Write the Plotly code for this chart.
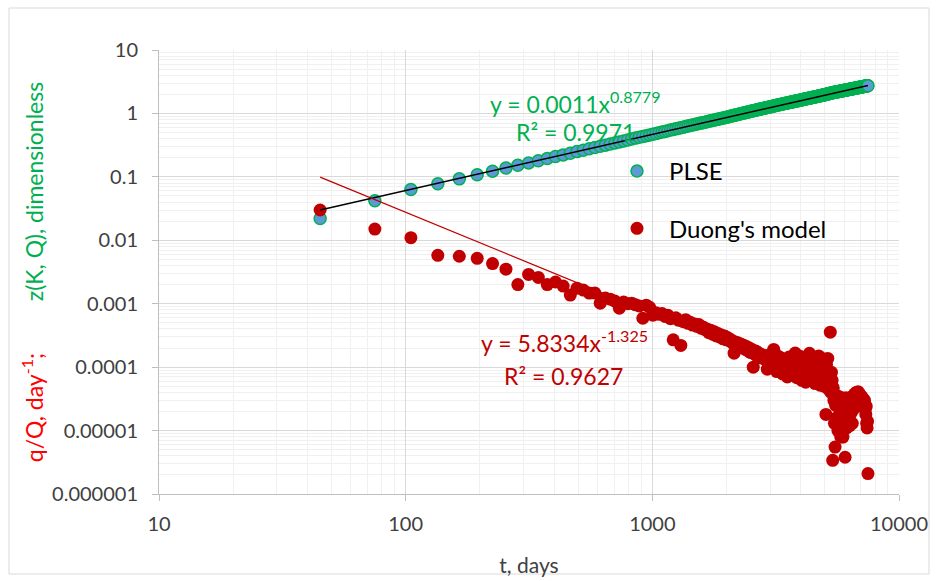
import plotly.graph_objects as go

# ---------------- data ----------------
days = list(range(45, 7486, 30))  # monthly sample times, t (days)

plse = [
    0.022, 0.042, 0.063, 0.078, 0.093, 0.108, 0.123, 0.138, 0.152, 0.166,
    0.180, 0.195, 0.209, 0.222, 0.236, 0.250, 0.263, 0.277, 0.290, 0.303,
    0.316, 0.330, 0.343, 0.356, 0.369, 0.382, 0.395, 0.408, 0.420, 0.433,
    0.446, 0.459, 0.471, 0.484, 0.496, 0.509, 0.521, 0.534, 0.546, 0.558,
    0.571, 0.583, 0.595, 0.607, 0.620, 0.632, 0.644, 0.656, 0.668, 0.680,
    0.692, 0.704, 0.716, 0.728, 0.740, 0.752, 0.764, 0.776, 0.787, 0.799,
    0.811, 0.823, 0.834, 0.846, 0.858, 0.869, 0.882, 0.895, 0.907, 0.920,
    0.932, 0.945, 0.957, 0.970, 0.982, 0.994, 1.006, 1.018, 1.030, 1.042,
    1.054, 1.066, 1.078, 1.090, 1.102, 1.114, 1.126, 1.138, 1.150, 1.162,
    1.174, 1.186, 1.197, 1.209, 1.221, 1.232, 1.244, 1.256, 1.267, 1.278,
    1.289, 1.300, 1.311, 1.322, 1.333, 1.344, 1.355, 1.366, 1.377, 1.388,
    1.399, 1.410, 1.420, 1.431, 1.442, 1.452, 1.463, 1.473, 1.484, 1.494,
    1.505, 1.515, 1.526, 1.536, 1.547, 1.557, 1.568, 1.578, 1.589, 1.599,
    1.610, 1.620, 1.631, 1.641, 1.651, 1.662, 1.672, 1.682, 1.693, 1.703,
    1.713, 1.724, 1.734, 1.744, 1.755, 1.765, 1.775, 1.786, 1.796, 1.806,
    1.816, 1.827, 1.837, 1.847, 1.857, 1.868, 1.878, 1.888, 1.898, 1.909,
    1.919, 1.929, 1.939, 1.949, 1.960, 1.970, 1.981, 1.993, 2.005, 2.017,
    2.029, 2.041, 2.053, 2.065, 2.077, 2.089, 2.100, 2.111, 2.121, 2.131,
    2.141, 2.150, 2.160, 2.169, 2.178, 2.187, 2.196, 2.205, 2.214, 2.223,
    2.232, 2.241, 2.250, 2.259, 2.268, 2.277, 2.286, 2.295, 2.304, 2.313,
    2.322, 2.331, 2.340, 2.349, 2.358, 2.367, 2.376, 2.385, 2.394, 2.403,
    2.412, 2.421, 2.430, 2.439, 2.448, 2.457, 2.466, 2.474, 2.483, 2.492,
    2.501, 2.510, 2.518, 2.527, 2.536, 2.545, 2.553, 2.562, 2.571, 2.580,
    2.588, 2.597, 2.606, 2.614, 2.623, 2.631, 2.640, 2.648, 2.657, 2.665,
    2.674, 2.682, 2.690, 2.698, 2.706, 2.714, 2.722, 2.730, 2.738,
]

duong = [
    0.030, 0.015, 0.011, 0.0058, 0.0056, 0.0052, 0.0043, 0.0035, 0.0020, 0.0029,
    0.0026, 0.0020, 0.0022, 0.0019, 0.00137, 0.00176, 0.00164, 0.00147, 0.00147, 0.00102,
    0.00123, 0.00118, 0.00110, 0.00085, 0.00106, 0.00100, 0.00102, 0.00096, 0.00092, 0.00059,
    0.00095, 0.00088, 0.00066, 0.00072, 0.00068, 0.00070, 0.00063, 0.00066, 0.00058, 0.00027,
    0.00060, 0.00055, 0.00022, 0.00052, 0.00056, 0.00049, 0.00051, 0.00046, 0.00048, 0.00044,
    0.00047, 0.00041, 0.00043, 0.00039, 0.00040, 0.00035, 0.00038, 0.00033, 0.00036, 0.00031,
    0.00034, 0.00030, 0.00032, 0.00028, 0.00031, 0.00027, 0.00029, 0.00026, 0.00027, 0.00024,
    0.000166, 0.00025, 0.00022, 0.00024, 0.00021, 0.00023, 0.00020, 0.00022, 0.00019, 0.00021,
    0.00018, 0.00020, 0.00017, 0.00019, 0.000100, 0.00016, 0.00018, 0.00015, 0.00017, 0.00014,
    0.00016, 0.000145, 0.000155, 0.000135, 0.00015, 0.00013, 0.000093, 0.000145, 0.000125, 0.00016,
    0.00011, 0.000135, 0.00019, 0.00010, 0.000125, 0.000085, 0.00015, 0.00012, 0.000095, 0.00014,
    0.00011, 0.000078, 0.00013, 0.000105, 0.00009, 0.000125, 0.00007, 0.00011, 0.000145, 0.000095,
    0.00012, 0.000075, 0.000105, 0.00013, 0.000085, 0.000167, 0.0001, 0.000068, 0.00012, 0.00009,
    0.00015, 0.00008, 0.00011, 0.000062, 0.000095, 0.00013, 0.000078, 0.000105, 0.000058, 0.00009,
    0.00014, 0.000072, 0.0001, 0.000165, 0.000068, 0.000088, 0.00012, 0.00006, 0.000095, 0.000075,
    0.00013, 0.000055, 0.000085, 0.00011, 0.000065, 0.00009, 0.00015, 0.00007, 0.000052, 0.0001,
    0.000078, 0.00012, 0.000062, 0.000088, 0.00005, 0.000135, 0.000072, 0.000018, 0.00011, 0.000062,
    0.000137, 0.000045, 0.00008, 0.000055, 0.000356, 0.00004, 0.000083, 0.000062, 0.0000034, 0.000047,
    0.000030, 0.000013, 0.0000055, 0.000025, 0.000035, 0.000016, 0.000028, 0.000010, 0.000034, 0.000030,
    0.000022, 0.000014, 0.0000079, 0.000026, 0.000031, 0.000018, 0.0000079, 0.000024, 0.000012, 0.000029,
    0.0000038, 0.000016, 0.000033, 0.000011, 0.000027, 0.000020, 0.000013, 0.000030, 0.000019, 0.000012,
    0.000031, 0.000024, 0.000019, 0.000034, 0.000013, 0.000028, 0.000035, 0.000022, 0.000031, 0.000038,
    0.000026, 0.000034, 0.000040, 0.000029, 0.000036, 0.000033, 0.000041, 0.000035, 0.000030, 0.000038,
    0.000033, 0.000036, 0.000031, 0.000027, 0.000034, 0.000029, 0.000025, 0.000032, 0.000028, 0.000023,
    0.000030, 0.000026, 0.000022, 0.000018, 0.000024, 0.000013, 0.000011, 0.000014, 0.0000021,
]

# trendline end points as drawn
trend_t = [45, 7485]
plse_trend = [0.030, 2.76]
duong_trend = [0.099, 0.000028]

x_tickvals = [10, 100, 1000, 10000]
x_ticktext = ["10", "100", "1000", "10000"]
y_tickvals = [10, 1, 0.1, 0.01, 0.001, 0.0001, 0.00001, 0.000001]
y_ticktext = ["10", "1", "0.1", "0.01", "0.001", "0.0001", "0.00001", "0.000001"]

assert len(days) == len(plse) == len(duong), (len(days), len(plse), len(duong))

# ---------------- styling ----------------
W, H = 937, 581
L, R, T, B = 159, 38, 50, 87
PW, PH = W - L - R, H - T - B
FONT = "Lato"
GREEN = "#00B050"
DARKRED = "#C00000"
TXT = "#404040"

def px(xp):
    return (xp - L) / PW

def py(yp):
    return (H - B - yp) / PH

x_minor = [m * 10 ** e for e in range(1, 4) for m in range(2, 10)]
y_minor = [m * 10 ** e for e in range(-6, 1) for m in range(2, 10)]

fig = go.Figure()
fig.add_trace(go.Scatter(
    x=days, y=plse, mode="markers", name="PLSE", legendgroup="a",
    marker=dict(size=12, color="#5B9BD5", line=dict(color=GREEN, width=1.5)),
))
fig.add_trace(go.Scatter(
    x=days, y=duong, mode="markers", name="Duong's model", legendgroup="b",
    marker=dict(size=13, color=DARKRED, line=dict(width=0)),
))
fig.add_trace(go.Scatter(
    x=trend_t, y=plse_trend, mode="lines", showlegend=False,
    line=dict(color="black", width=1.5),
))
fig.add_trace(go.Scatter(
    x=trend_t, y=duong_trend, mode="lines", showlegend=False,
    line=dict(color=DARKRED, width=1.2),
))

axis_common = dict(
    showline=True, linecolor="#BFBFBF", linewidth=1,
    ticks="outside", ticklen=6, tickcolor="#BFBFBF",
    showgrid=True, gridcolor="#D9D9D9", gridwidth=1,
    tickfont=dict(family=FONT, size=20, color=TXT),
    zeroline=False, mirror=False, automargin=False,
)

fig.update_xaxes(
    type="log", range=[1, 4], tickvals=x_tickvals, ticktext=x_ticktext,
    ticklabelstandoff=6,
    minor=dict(tickvals=x_minor, showgrid=True, gridcolor="#F0F0F0", ticks=""),
    title=dict(text="t, days", font=dict(family=FONT, size=21, color=TXT), standoff=24),
    **axis_common,
)
fig.update_yaxes(
    type="log", range=[-6, 1], tickvals=y_tickvals, ticktext=y_ticktext,
    ticklabelstandoff=10,
    minor=dict(tickvals=y_minor, showgrid=True, gridcolor="#F0F0F0", ticks=""),
    title=dict(
        text=("<span style='color:#FF0000'>q/Q, day<sup>-1</sup>;</span>"
              "\u2003\u2003\u2003<span style='color:#00B050'>z(K, Q), dimensionless</span>"),
        font=dict(family=FONT, size=23), standoff=2,
    ),
    **axis_common,
)

fig.update_layout(
    width=W, height=H,
    margin=dict(l=L, r=R, t=T, b=B),
    paper_bgcolor="white", plot_bgcolor="white",
    font=dict(family=FONT, color=TXT),
    legend=dict(
        x=px(605), y=py(149), xanchor="left", yanchor="top",
        bgcolor="rgba(0,0,0,0)", borderwidth=0,
        font=dict(family=FONT, size=24, color="black"),
        tracegroupgap=23, itemwidth=54,
    ),
    showlegend=True,
    annotations=[
        dict(x=px(575), y=py(85), xref="paper", yref="paper", showarrow=False,
             text="y = 0.0011x<sup>0.8779</sup>", font=dict(family=FONT, size=23, color=GREEN)),
        dict(x=px(575), y=py(116), xref="paper", yref="paper", showarrow=False,
             text="R² = 0.9971", font=dict(family=FONT, size=23, color=GREEN)),
        dict(x=px(564), y=py(359), xref="paper", yref="paper", showarrow=False,
             text="y = 5.8334x<sup>-1.325</sup>", font=dict(family=FONT, size=23, color=DARKRED)),
        dict(x=px(563), y=py(392), xref="paper", yref="paper", showarrow=False,
             text="R² = 0.9627", font=dict(family=FONT, size=23, color=DARKRED)),
    ],
    shapes=[
        dict(type="rect", xref="paper", yref="paper",
             x0=px(9), x1=px(929), y0=py(574), y1=py(8),
             line=dict(color="#D9D9D9", width=1), fillcolor="rgba(0,0,0,0)", layer="below"),
        dict(type="rect", xref="paper", yref="paper",
             x0=px(601), x1=px(852), y0=py(275), y1=py(158),
             line=dict(width=0), fillcolor="white", layer="between"),
    ],
)

fig.write_html("out.html")
